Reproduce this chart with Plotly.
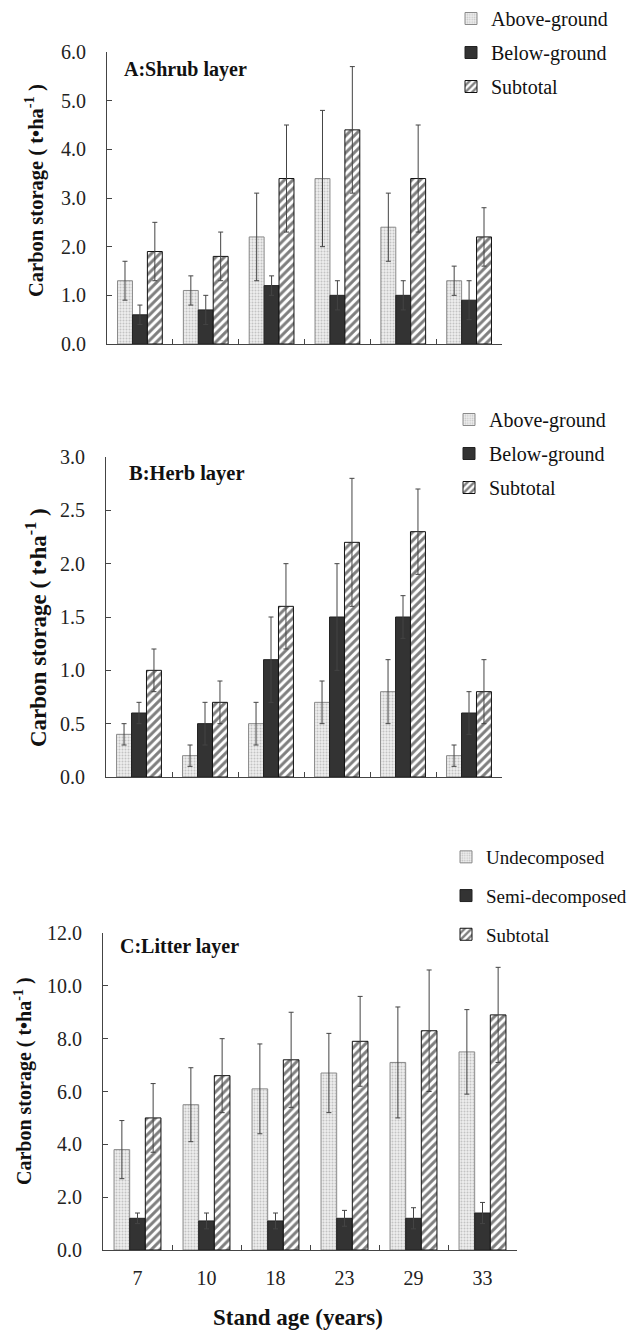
import plotly.graph_objects as go

ages = ["7", "10", "18", "23", "29", "33"]

# A: Shrub layer
shrub_above = [1.3, 1.1, 2.2, 3.4, 2.4, 1.3]
shrub_above_err = [0.4, 0.3, 0.9, 1.4, 0.7, 0.3]
shrub_below = [0.6, 0.7, 1.2, 1.0, 1.0, 0.9]
shrub_below_err = [0.2, 0.3, 0.2, 0.3, 0.3, 0.4]
shrub_total = [1.9, 1.8, 3.4, 4.4, 3.4, 2.2]
shrub_total_err = [0.6, 0.5, 1.1, 1.3, 1.1, 0.6]

# B: Herb layer
herb_above = [0.4, 0.2, 0.5, 0.7, 0.8, 0.2]
herb_above_err = [0.1, 0.1, 0.2, 0.2, 0.3, 0.1]
herb_below = [0.6, 0.5, 1.1, 1.5, 1.5, 0.6]
herb_below_err = [0.1, 0.2, 0.4, 0.5, 0.2, 0.2]
herb_total = [1.0, 0.7, 1.6, 2.2, 2.3, 0.8]
herb_total_err = [0.2, 0.2, 0.4, 0.6, 0.4, 0.3]

# C: Litter layer
litter_undec = [3.8, 5.5, 6.1, 6.7, 7.1, 7.5]
litter_undec_err = [1.1, 1.4, 1.7, 1.5, 2.1, 1.6]
litter_semi = [1.2, 1.1, 1.1, 1.2, 1.2, 1.4]
litter_semi_err = [0.2, 0.3, 0.3, 0.3, 0.4, 0.4]
litter_total = [5.0, 6.6, 7.2, 7.9, 8.3, 8.9]
litter_total_err = [1.3, 1.4, 1.8, 1.7, 2.3, 1.8]

FONT = "Liberation Serif, Times New Roman, serif"
OFF = 8  # default page body margin
W, H = 640 - OFF, 1330 - OFF

def px(x):
    return (x - OFF) / W

def py(y):
    return 1 - (y - OFF) / H

dot_style = dict(color="#e8e8e8", line=dict(color="#8a8a8a", width=1),
                 pattern=dict(shape=".", fgcolor="#9a9a9a", bgcolor="#ededed",
                              size=3, solidity=0.35))
dark_style = dict(color="#333333", line=dict(color="#222222", width=1))
hatch_style = dict(color="white", line=dict(color="#111111", width=1),
                   pattern=dict(shape="/", fgcolor="#000000", bgcolor="white",
                                size=6, solidity=0.5))

def err(arr):
    return dict(type="data", array=arr, visible=True, color="#444444",
                thickness=1, width=2.5)

fig = go.Figure()

panels = [
    ("x", "y", "legend", ["Above-ground", "Below-ground", "Subtotal"],
     [(shrub_above, shrub_above_err), (shrub_below, shrub_below_err),
      (shrub_total, shrub_total_err)]),
    ("x2", "y2", "legend2", ["Above-ground", "Below-ground", "Subtotal"],
     [(herb_above, herb_above_err), (herb_below, herb_below_err),
      (herb_total, herb_total_err)]),
    ("x3", "y3", "legend3", ["Undecomposed", "Semi-decomposed", "Subtotal"],
     [(litter_undec, litter_undec_err), (litter_semi, litter_semi_err),
      (litter_total, litter_total_err)]),
]
styles = [dot_style, dark_style, hatch_style]

for xa, ya, lg, names, series in panels:
    for i, (name, (vals, errs)) in enumerate(zip(names, series)):
        fig.add_trace(go.Bar(
            x=ages, y=vals, name=name, xaxis=xa, yaxis=ya,
            marker=styles[i], error_y=err(errs),
            legend=lg, legendgroup=f"{lg}_{i}", showlegend=True,
        ))

axis_common = dict(showline=True, linecolor="#444444", linewidth=1,
                   ticks="inside", ticklen=5, tickcolor="#444444",
                   showgrid=False, zeroline=False, automargin=False,
                   tickfont=dict(family=FONT, size=20, color="#222222"))

xdom = [(px(107), px(502)), (px(106), px(502)), (px(103), px(517))]
ydom = [(py(344), py(52)), (py(777), py(457)), (py(1250), py(933))]
yr = [(0, 6), (0, 3), (0, 12)]
dt = [1, 0.5, 2]
names_x = ["xaxis", "xaxis2", "xaxis3"]
names_y = ["yaxis", "yaxis2", "yaxis3"]
anch_x = ["y", "y2", "y3"]
anch_y = ["x", "x2", "x3"]

layout = dict(width=W, height=H,
              margin=dict(l=0, r=0, t=0, b=0, autoexpand=False),
              paper_bgcolor="white", plot_bgcolor="white",
              barmode="group", bargap=0.32, bargroupgap=0,
              font=dict(family=FONT, color="#222222"), showlegend=True)
for k in range(3):
    layout[names_x[k]] = dict(axis_common, domain=list(xdom[k]), anchor=anch_x[k],
                              type="category", tickson="boundaries",
                              showticklabels=(k == 2), ticklabelstandoff=10)
    layout[names_y[k]] = dict(axis_common, domain=list(ydom[k]), anchor=anch_y[k],
                              range=list(yr[k]), dtick=dt[k], tick0=0,
                              tickformat=".1f", ticklabelstandoff=16)

leg_common = dict(font=dict(family=FONT, size=20, color="#111111"),
                  bgcolor="rgba(0,0,0,0)", traceorder="grouped",
                  xanchor="left", yanchor="top")
layout["legend"] = dict(leg_common, x=px(451), y=py(-1), tracegroupgap=5)
layout["legend2"] = dict(leg_common, x=px(449), y=py(400), tracegroupgap=5)
layout["legend3"] = dict(leg_common, x=px(446), y=py(838), tracegroupgap=11,
                         font=dict(family=FONT, size=19, color="#111111"))
fig.update_layout(**layout)

ann = []
titles = [("A:Shrub layer", 122, 69, 20), ("B:Herb layer", 127, 473, 20.5),
          ("C:Litter layer", 118, 947, 20)]
for t, x0, y0, fs in titles:
    ann.append(dict(text=f"<b>{t}</b>", x=px(x0), y=py(y0), xref="paper", yref="paper",
                    xanchor="left", yanchor="middle", showarrow=False,
                    font=dict(family=FONT, size=fs, color="#111111")))
ytitle = "<b>Carbon storage ( t•ha<sup>-1</sup> )</b>"
for x0, y0, fs in [(34, 191, 20.5), (37, 628, 23), (23, 1081, 20)]:
    ann.append(dict(text=ytitle, x=px(x0), y=py(y0), xref="paper", yref="paper",
                    xanchor="center", yanchor="middle", textangle=-90, showarrow=False,
                    font=dict(family=FONT, size=fs, color="#111111")))
ann.append(dict(text="<b>Stand age (years)</b>", x=px(298), y=py(1317),
                xref="paper", yref="paper", xanchor="center", yanchor="middle",
                showarrow=False, font=dict(family=FONT, size=23, color="#111111")))
fig.update_layout(annotations=ann)

fig.write_html("out.html")
